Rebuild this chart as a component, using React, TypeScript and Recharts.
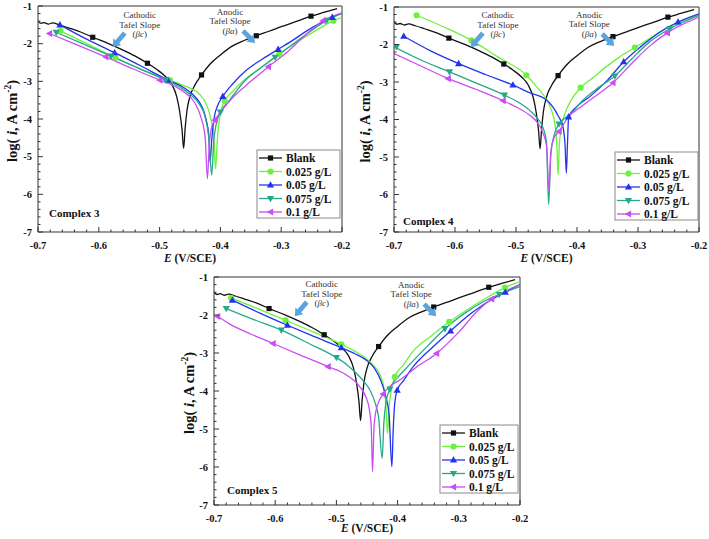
import {
  ComposedChart,
  Line,
  Scatter,
  XAxis,
  YAxis,
  ReferenceLine,
  ReferenceDot,
} from "recharts";

type Pt = [number, number];

const SERIF = '"Liberation Serif", "Times New Roman", serif';
const AXIS = "#333";
const ARROW = "#5BA4DD";

const NAMES = ["Blank", "0.025 g/L", "0.05 g/L", "0.075 g/L", "0.1 g/L"];
const COLORS = ["#111111", "#6BF23B", "#2233EE", "#22A88A", "#C94DF2"];
const KINDS = ["square", "circle", "up", "down", "left"];

const X_MAJOR = [-0.7, -0.6, -0.5, -0.4, -0.3, -0.2];
const Y_MAJOR = [-7, -6, -5, -4, -3, -2, -1];

// Blank is the same curve in all three panels
const BLANK_LINE: Pt[] = [
  [-0.7, -1.4], [-0.695, -1.46], [-0.69, -1.44], [-0.683, -1.48], [-0.676, -1.45],
  [-0.665, -1.5], [-0.65, -1.58], [-0.63, -1.69], [-0.61, -1.83], [-0.585, -1.99],
  [-0.56, -2.17], [-0.54, -2.33], [-0.52, -2.52], [-0.505, -2.68], [-0.49, -2.88],
  [-0.48, -3.08], [-0.472, -3.4], [-0.467, -3.8], [-0.463, -4.3], [-0.4605, -4.78],
  [-0.458, -4.25], [-0.455, -3.78], [-0.45, -3.4], [-0.442, -3.1], [-0.431, -2.83],
  [-0.418, -2.56], [-0.4, -2.3], [-0.38, -2.06], [-0.36, -1.91], [-0.341, -1.79],
  [-0.32, -1.67], [-0.3, -1.55], [-0.275, -1.41], [-0.251, -1.27], [-0.23, -1.17],
  [-0.208, -1.07],
];
const BLANK_MARKS: Pt[] = [[-0.61, -1.83], [-0.52, -2.52], [-0.431, -2.83], [-0.341, -1.79], [-0.251, -1.27]];

// Complex 3
const C3_025_LINE: Pt[] = [
  [-0.663, -1.66], [-0.62, -2.0], [-0.5725, -2.37], [-0.53, -2.68], [-0.483, -2.97],
  [-0.465, -3.08], [-0.45, -3.18], [-0.435, -3.33], [-0.424, -3.58], [-0.416, -3.98],
  [-0.411, -4.5], [-0.408, -5.32], [-0.405, -4.55], [-0.402, -4.05], [-0.398, -3.72],
  [-0.393, -3.52], [-0.38, -3.27], [-0.36, -2.95], [-0.335, -2.65], [-0.303, -2.27],
  [-0.27, -1.92], [-0.24, -1.62], [-0.214, -1.39], [-0.2, -1.31],
];
const C3_025_MARKS: Pt[] = [[-0.663, -1.66], [-0.5725, -2.37], [-0.483, -2.97], [-0.393, -3.52], [-0.303, -2.27], [-0.214, -1.39]];
const C3_05_LINE: Pt[] = [
  [-0.664, -1.5], [-0.62, -1.88], [-0.574, -2.24], [-0.53, -2.6], [-0.486, -2.97],
  [-0.46, -3.17], [-0.444, -3.37], [-0.432, -3.62], [-0.424, -3.98], [-0.419, -4.45],
  [-0.417, -5.14], [-0.414, -4.5], [-0.41, -3.95], [-0.404, -3.62], [-0.396, -3.4],
  [-0.38, -3.07], [-0.357, -2.7], [-0.33, -2.4], [-0.305, -2.15], [-0.28, -1.9],
  [-0.258, -1.66], [-0.235, -1.45], [-0.216, -1.3], [-0.2, -1.19],
];
const C3_05_MARKS: Pt[] = [[-0.664, -1.5], [-0.574, -2.24], [-0.486, -2.97], [-0.396, -3.4], [-0.305, -2.15], [-0.216, -1.3]];
const C3_075_LINE: Pt[] = [
  [-0.67, -1.7], [-0.625, -2.01], [-0.58, -2.33], [-0.535, -2.65], [-0.49, -2.97],
  [-0.465, -3.17], [-0.448, -3.37], [-0.435, -3.6], [-0.425, -3.95], [-0.419, -4.5],
  [-0.4143, -5.49], [-0.411, -4.6], [-0.407, -4.15], [-0.4, -3.82], [-0.385, -3.5],
  [-0.36, -2.99], [-0.335, -2.66], [-0.31, -2.36], [-0.28, -2.0], [-0.25, -1.65],
  [-0.225, -1.38], [-0.2, -1.2],
];
const C3_075_MARKS: Pt[] = [[-0.67, -1.7], [-0.58, -2.33], [-0.49, -2.97], [-0.4, -3.82], [-0.31, -2.36], [-0.225, -1.38]];
const C3_1_LINE: Pt[] = [
  [-0.681, -1.73], [-0.635, -2.04], [-0.5885, -2.35], [-0.545, -2.66], [-0.4995, -2.97],
  [-0.475, -3.13], [-0.458, -3.3], [-0.443, -3.55], [-0.432, -3.95], [-0.425, -4.5],
  [-0.4214, -5.58], [-0.418, -4.6], [-0.414, -4.2], [-0.409, -4.03], [-0.395, -3.72],
  [-0.379, -3.42], [-0.35, -3.0], [-0.321, -2.61], [-0.29, -2.22], [-0.26, -1.77],
  [-0.231, -1.39], [-0.2, -1.18],
];
const C3_1_MARKS: Pt[] = [[-0.681, -1.73], [-0.5885, -2.35], [-0.4995, -2.97], [-0.409, -4.03], [-0.321, -2.61], [-0.231, -1.39]];

// Complex 4
const C4_025_LINE: Pt[] = [
  [-0.663, -1.22], [-0.62, -1.52], [-0.573, -1.89], [-0.53, -2.33], [-0.483, -2.82],
  [-0.465, -3.15], [-0.452, -3.42], [-0.442, -3.75], [-0.436, -4.15], [-0.433, -4.7],
  [-0.431, -5.48], [-0.429, -4.7], [-0.426, -4.25], [-0.42, -3.85], [-0.41, -3.5],
  [-0.394, -3.15], [-0.375, -2.9], [-0.355, -2.63], [-0.33, -2.33], [-0.305, -2.08],
  [-0.28, -1.83], [-0.254, -1.57], [-0.23, -1.4], [-0.2, -1.2],
];
const C4_025_MARKS: Pt[] = [[-0.663, -1.22], [-0.573, -1.89], [-0.483, -2.82], [-0.394, -3.15], [-0.305, -2.08]];
const C4_05_LINE: Pt[] = [
  [-0.684, -1.78], [-0.64, -2.17], [-0.594, -2.51], [-0.55, -2.8], [-0.505, -3.08],
  [-0.48, -3.27], [-0.45, -3.48], [-0.431, -3.9], [-0.423, -4.2], [-0.4195, -4.7],
  [-0.4175, -5.43], [-0.4155, -4.6], [-0.4137, -3.93], [-0.4, -3.65], [-0.379, -3.39],
  [-0.35, -2.95], [-0.3235, -2.46], [-0.295, -2.05], [-0.265, -1.68], [-0.2344, -1.4],
  [-0.2, -1.18],
];
const C4_05_MARKS: Pt[] = [[-0.684, -1.78], [-0.594, -2.51], [-0.505, -3.08], [-0.4137, -3.93], [-0.3235, -2.46], [-0.2344, -1.4]];
const C4_075_LINE: Pt[] = [
  [-0.7, -2.06], [-0.655, -2.42], [-0.609, -2.73], [-0.565, -3.03], [-0.519, -3.35],
  [-0.495, -3.55], [-0.478, -3.75], [-0.465, -3.97], [-0.455, -4.25], [-0.45, -4.6],
  [-0.4465, -6.27], [-0.443, -4.95], [-0.438, -4.45], [-0.4295, -4.12], [-0.41, -3.85],
  [-0.39, -3.48], [-0.365, -3.15], [-0.338, -2.84], [-0.31, -2.38], [-0.281, -1.93],
  [-0.248, -1.58], [-0.2, -1.22],
];
const C4_075_MARKS: Pt[] = [[-0.696, -2.06], [-0.609, -2.73], [-0.519, -3.35], [-0.4295, -4.12], [-0.338, -2.84], [-0.248, -1.58]];
const C4_1_LINE: Pt[] = [
  [-0.7, -2.24], [-0.655, -2.58], [-0.611, -2.91], [-0.565, -3.2], [-0.521, -3.5],
  [-0.498, -3.68], [-0.478, -3.88], [-0.465, -4.08], [-0.456, -4.35], [-0.45, -4.7],
  [-0.446, -5.88], [-0.443, -4.9], [-0.438, -4.5], [-0.4295, -4.32], [-0.415, -3.95],
  [-0.39, -3.62], [-0.365, -3.32], [-0.341, -3.02], [-0.31, -2.5], [-0.28, -2.03],
  [-0.252, -1.69], [-0.2, -1.27],
];
const C4_1_MARKS: Pt[] = [[-0.611, -2.91], [-0.521, -3.5], [-0.4295, -4.32], [-0.341, -3.02], [-0.252, -1.69]];

// Complex 5
const C5_025_LINE: Pt[] = [
  [-0.672, -1.55], [-0.628, -1.84], [-0.583, -2.14], [-0.537, -2.45], [-0.492, -2.77],
  [-0.47, -2.95], [-0.451, -3.15], [-0.438, -3.35], [-0.428, -3.6], [-0.422, -3.95],
  [-0.419, -4.4], [-0.4165, -5.12], [-0.414, -4.45], [-0.41, -3.95], [-0.4045, -3.63],
  [-0.39, -3.3], [-0.3745, -2.95], [-0.345, -2.55], [-0.3156, -2.18], [-0.29, -1.9],
  [-0.26, -1.6], [-0.2245, -1.28], [-0.2, -1.12],
];
const C5_025_MARKS: Pt[] = [[-0.672, -1.55], [-0.583, -2.14], [-0.492, -2.77], [-0.4045, -3.63], [-0.3156, -2.18], [-0.2245, -1.28]];
const C5_05_LINE: Pt[] = [
  [-0.67, -1.61], [-0.625, -1.95], [-0.58, -2.27], [-0.536, -2.57], [-0.492, -2.86],
  [-0.47, -3.02], [-0.451, -3.19], [-0.438, -3.4], [-0.428, -3.7], [-0.42, -4.1],
  [-0.414, -4.6], [-0.4094, -5.99], [-0.407, -4.95], [-0.4045, -4.3], [-0.4007, -3.98],
  [-0.39, -3.72], [-0.3745, -3.36], [-0.345, -2.88], [-0.3134, -2.42], [-0.285, -2.02],
  [-0.26, -1.73], [-0.224, -1.4], [-0.2, -1.2],
];
const C5_05_MARKS: Pt[] = [[-0.67, -1.61], [-0.58, -2.27], [-0.492, -2.86], [-0.4007, -3.98], [-0.3134, -2.42], [-0.224, -1.4]];
const C5_075_LINE: Pt[] = [
  [-0.68, -1.83], [-0.635, -2.12], [-0.59, -2.4], [-0.545, -2.75], [-0.5, -3.12],
  [-0.482, -3.32], [-0.467, -3.54], [-0.455, -3.75], [-0.445, -3.98], [-0.437, -4.3],
  [-0.431, -4.7], [-0.4252, -5.77], [-0.4225, -4.85], [-0.419, -4.3], [-0.4127, -3.95],
  [-0.4, -3.65], [-0.38, -3.3], [-0.35, -2.8], [-0.3227, -2.36], [-0.29, -1.95],
  [-0.26, -1.65], [-0.2338, -1.46], [-0.2, -1.25],
];
const C5_075_MARKS: Pt[] = [[-0.68, -1.83], [-0.59, -2.4], [-0.5, -3.12], [-0.4127, -3.95], [-0.3227, -2.36], [-0.2338, -1.46]];
const C5_1_LINE: Pt[] = [
  [-0.697, -2.02], [-0.686, -2.12], [-0.674, -2.24], [-0.64, -2.5], [-0.6035, -2.75],
  [-0.56, -3.05], [-0.5135, -3.36], [-0.4835, -3.58], [-0.4617, -3.89], [-0.452, -4.15],
  [-0.446, -4.5], [-0.443, -4.95], [-0.441, -6.12], [-0.4385, -4.95], [-0.435, -4.5],
  [-0.4236, -4.08], [-0.41, -3.85], [-0.3963, -3.71], [-0.37, -3.38], [-0.3363, -3.01],
  [-0.3, -2.45], [-0.27, -1.9], [-0.2463, -1.58], [-0.2, -1.2],
];
const C5_1_MARKS: Pt[] = [[-0.694, -2.04], [-0.6035, -2.75], [-0.5135, -3.36], [-0.4236, -4.08], [-0.3363, -3.01], [-0.2463, -1.58]];

const X_ALL = Array.from({ length: 26 }, (_, i) => Math.round((-0.7 + i * 0.02) * 100) / 100);
const Y_ALL = Array.from({ length: 31 }, (_, i) => Math.round((-7 + i * 0.2) * 10) / 10);

const rows = (pts: Pt[]) => pts.map(([e, v]) => ({ e, v }));

function MarkerShape({ kind, cx, cy, color }: { kind: string; cx: number; cy: number; color: string }) {
  if (cx == null || cy == null) return null;
  switch (kind) {
    case "square":
      return <rect x={cx - 2.6} y={cy - 2.6} width={5.2} height={5.2} fill={color} />;
    case "circle":
      return <circle cx={cx} cy={cy} r={3.1} fill={color} />;
    case "up":
      return <polygon points={`${cx},${cy - 3.8} ${cx + 3.6},${cy + 2.6} ${cx - 3.6},${cy + 2.6}`} fill={color} />;
    case "down":
      return <polygon points={`${cx},${cy + 3.8} ${cx + 3.6},${cy - 2.6} ${cx - 3.6},${cy - 2.6}`} fill={color} />;
    default:
      return <polygon points={`${cx - 3.8},${cy} ${cx + 2.6},${cy - 3.6} ${cx + 2.6},${cy + 3.6}`} fill={color} />;
  }
}

const XTick = (props: any) => {
  const { x, y, payload } = props;
  const major = X_MAJOR.some((m) => Math.abs(m - payload.value) < 1e-6);
  return (
    <g>
      <line x1={x} x2={x} y1={y} y2={y - (major ? 5 : 2.5)} stroke={AXIS} strokeWidth={1} />
      {major && (
        <text x={x} y={y + 17} textAnchor="middle" fontSize={10.5} fontWeight="bold" fontFamily={SERIF} fill="#111">
          {payload.value.toFixed(1)}
        </text>
      )}
    </g>
  );
};

const YTick = (props: any) => {
  const { x, y, payload } = props;
  const major = Y_MAJOR.some((m) => Math.abs(m - payload.value) < 1e-6);
  return (
    <g>
      <line x1={x} x2={x + (major ? 5 : 2.5)} y1={y} y2={y} stroke={AXIS} strokeWidth={1} />
      {major && (
        <text x={x - 6} y={y + 3.5} textAnchor="end" fontSize={10.5} fontWeight="bold" fontFamily={SERIF} fill="#111">
          {Math.round(payload.value)}
        </text>
      )}
    </g>
  );
};

function arrowPoints(tx: number, ty: number, hx: number, hy: number) {
  const dx = hx - tx;
  const dy = hy - ty;
  const len = Math.hypot(dx, dy);
  const ux = dx / len;
  const uy = dy / len;
  const nx = -uy;
  const ny = ux;
  const sw = 2.4;
  const hw = 5.2;
  const hl = 7;
  const bx = hx - ux * hl;
  const by = hy - uy * hl;
  const p = [
    [tx + nx * sw, ty + ny * sw],
    [bx + nx * sw, by + ny * sw],
    [bx + nx * hw, by + ny * hw],
    [hx, hy],
    [bx - nx * hw, by - ny * hw],
    [bx - nx * sw, by - ny * sw],
    [tx - nx * sw, ty - ny * sw],
  ];
  return p.map((q) => q.join(",")).join(" ");
}

function Annotation({ cx, cy, side }: { cx: number; cy: number; side: "c" | "a" }) {
  if (cx == null || cy == null) return null;
  const cathodic = side === "c";
  const tdx = cathodic ? 12 : -12;
  const tdy = cathodic ? -14 : -12;
  const textX = cx + (cathodic ? 27 : -25);
  const base = cathodic ? [-29, -19, -10] : [-28, -19, -9];
  const t = { fontSize: 9, fontFamily: SERIF, fill: "#333", textAnchor: "middle" as const };
  return (
    <g>
      <text x={textX} y={cy + base[0]} {...t}>{cathodic ? "Cathodic" : "Anodic"}</text>
      <text x={textX} y={cy + base[1]} {...t}>Tafel Slope</text>
      <text x={textX} y={cy + base[2]} {...t}>
        (<tspan fontStyle="italic">{cathodic ? "βc" : "βa"}</tspan>)
      </text>
      <polygon points={arrowPoints(cx + tdx, cy + tdy, cx, cy)} fill={ARROW} />
    </g>
  );
}

type PanelDef = {
  title: string;
  left: number;
  top: number;
  width: number;
  height: number;
  mTop: number;
  mRight: number;
  yWidth: number;
  xHeight: number;
  lines: Pt[][];
  marks: Pt[][];
  cath: Pt;
  anod: Pt;
  legend: { x: number; y: number; w: number };
  label: { dx: number; dy: number };
  yTitleX: number;
  xTitleDy: number;
};

const PANELS: PanelDef[] = [
  {
    title: "Complex 3",
    left: 0, top: 0, width: 355, height: 268, mTop: 6, mRight: 13, yWidth: 38, xHeight: 36,
    lines: [BLANK_LINE, C3_025_LINE, C3_05_LINE, C3_075_LINE, C3_1_LINE],
    marks: [BLANK_MARKS, C3_025_MARKS, C3_05_MARKS, C3_075_MARKS, C3_1_MARKS],
    cath: [-0.577, -2.09], anod: [-0.343, -1.98],
    legend: { x: 257, y: 150, w: 83 }, label: { dx: 11, dy: 15 }, yTitleX: 17, xTitleDy: 30,
  },
  {
    title: "Complex 4",
    left: 355, top: 0, width: 354, height: 268, mTop: 7, mRight: 10, yWidth: 39, xHeight: 36,
    lines: [BLANK_LINE, C4_025_LINE, C4_05_LINE, C4_075_LINE, C4_1_LINE],
    marks: [BLANK_MARKS, C4_025_MARKS, C4_05_MARKS, C4_075_MARKS, C4_1_MARKS],
    cath: [-0.574, -2.07], anod: [-0.339, -2.04],
    legend: { x: 260, y: 152, w: 83 }, label: { dx: 9, dy: 7 }, yTitleX: 15, xTitleDy: 30,
  },
  {
    title: "Complex 5",
    left: 176, top: 270, width: 355, height: 269, mTop: 7, mRight: 11, yWidth: 38, xHeight: 34,
    lines: [BLANK_LINE, C5_025_LINE, C5_05_LINE, C5_075_LINE, C5_1_LINE],
    marks: [BLANK_MARKS, C5_025_MARKS, C5_05_MARKS, C5_075_MARKS, C5_1_MARKS],
    cath: [-0.568, -2.03], anod: [-0.337, -2.03],
    legend: { x: 264, y: 155, w: 78 }, label: { dx: 13, dy: 11 }, yTitleX: 18, xTitleDy: 27,
  },
];

function Panel({ p }: { p: PanelDef }) {
  const plotLeft = p.yWidth;
  const plotRight = p.width - p.mRight;
  const plotTop = p.mTop;
  const plotBottom = p.height - p.xHeight;
  const midY = (plotTop + plotBottom) / 2 + 2;
  return (
    <div style={{ position: "absolute", left: p.left, top: p.top, width: p.width, height: p.height }}>
      <ComposedChart width={p.width} height={p.height} margin={{ top: p.mTop, right: p.mRight, left: 0, bottom: 0 }}>
        <XAxis
          type="number"
          dataKey="e"
          domain={[-0.7, -0.2]}
          allowDataOverflow
          ticks={X_ALL}
          interval={0}
          tickSize={0}
          tickMargin={0}
          tick={XTick}
          axisLine={{ stroke: AXIS }}
          tickLine={false}
          height={p.xHeight}
        />
        <YAxis
          type="number"
          dataKey="v"
          domain={[-7, -1]}
          allowDataOverflow
          ticks={Y_ALL}
          interval={0}
          tickSize={0}
          tickMargin={0}
          tick={YTick}
          axisLine={{ stroke: AXIS }}
          tickLine={false}
          width={p.yWidth}
        />
        <ReferenceLine y={-1} stroke={AXIS} />
        <ReferenceLine x={-0.2} stroke={AXIS} />
        {p.lines.map((pts, i) => (
          <Line
            key={`l-${i}`}
            data={rows(pts)}
            dataKey="v"
            type="monotoneX"
            stroke={COLORS[i]}
            strokeWidth={1.3}
            dot={false}
            activeDot={false}
            isAnimationActive={false}
          />
        ))}
        {p.marks.map((pts, i) => (
          <Scatter
            key={`s-${i}`}
            data={rows(pts)}
            dataKey="v"
            isAnimationActive={false}
            shape={(sp: any) => <MarkerShape kind={KINDS[i]} cx={sp.cx} cy={sp.cy} color={COLORS[i]} />}
          />
        ))}
        <ReferenceDot
          x={p.cath[0]}
          y={p.cath[1]}
          r={0}
          ifOverflow="visible"
          shape={(sp: any) => <Annotation cx={sp.cx} cy={sp.cy} side="c" />}
        />
        <ReferenceDot
          x={p.anod[0]}
          y={p.anod[1]}
          r={0}
          ifOverflow="visible"
          shape={(sp: any) => <Annotation cx={sp.cx} cy={sp.cy} side="a" />}
        />
      </ComposedChart>
      <svg
        width={p.width}
        height={p.height}
        style={{ position: "absolute", left: 0, top: 0, pointerEvents: "none" }}
        fontFamily={SERIF}
      >
        <text
          transform={`translate(${p.yTitleX},${midY}) rotate(-90)`}
          textAnchor="middle"
          fontSize={14.5}
          fontWeight="bold"
          fill="#111"
        >
          log( <tspan fontStyle="italic">i</tspan>, A cm
          <tspan fontSize={9.5} dy={-6}>-2</tspan>
          <tspan dy={6}>)</tspan>
        </text>
        <text
          x={(plotLeft + plotRight) / 2}
          y={plotBottom + p.xTitleDy}
          textAnchor="middle"
          fontSize={11.5}
          fontWeight="bold"
          fill="#111"
        >
          <tspan fontStyle="italic">E</tspan> (V/SCE)
        </text>
        <text x={plotLeft + p.label.dx} y={plotBottom - p.label.dy} fontSize={11} fontWeight="bold" fill="#111">
          {p.title}
        </text>
        <g transform={`translate(${p.legend.x},${p.legend.y})`}>
          <rect x={0} y={0} width={p.legend.w} height={68} fill="#fff" stroke="#8a8a8a" strokeWidth={1} />
          {NAMES.map((n, i) => {
            const cy = 8 + i * 13.5;
            return (
              <g key={n}>
                <line x1={2} x2={25} y1={cy} y2={cy} stroke={COLORS[i]} strokeWidth={1.3} />
                <MarkerShape kind={KINDS[i]} cx={13.5} cy={cy} color={COLORS[i]} />
                <text x={29} y={cy + 4} fontSize={11.5} fontWeight="bold" fill="#111">
                  {n}
                </text>
              </g>
            );
          })}
        </g>
      </svg>
    </div>
  );
}

export default function App() {
  return (
    <div style={{ position: "absolute", left: 0, top: 0, width: 709, height: 539, background: "#fff", overflow: "hidden" }}>
      {PANELS.map((p) => (
        <Panel key={p.title} p={p} />
      ))}
    </div>
  );
}
